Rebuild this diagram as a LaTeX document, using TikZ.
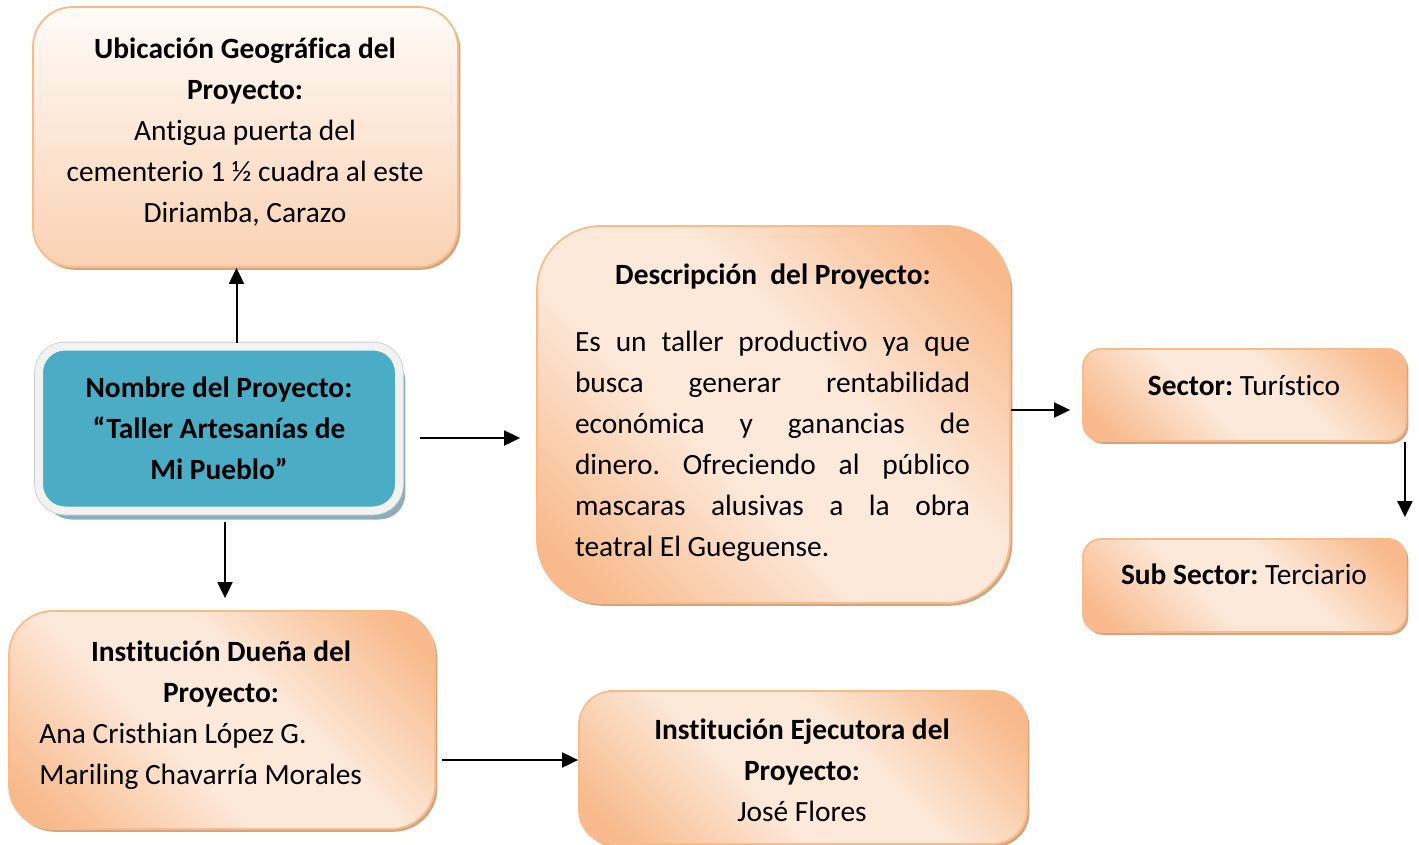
\documentclass[tikz,border=0pt]{standalone}
\usepackage{fontspec}
\setmainfont{Carlito}[Ligatures=NoCommon]
\usetikzlibrary{arrows.meta,shadows,calc}
\definecolor{pOr}{HTML}{F8BA8C}
\definecolor{pLt}{HTML}{FDE9DA}
\definecolor{pBorder}{HTML}{F7BB8C}
\definecolor{pShadow}{HTML}{D4A480}
\definecolor{nBlue}{HTML}{4BACC6}
\definecolor{nWhite}{HTML}{F2F2F2}
\definecolor{nGray}{HTML}{C9CDD0}
\definecolor{nShadow}{HTML}{8FADB8}
\definecolor{uTop}{HTML}{FFFBF8}
\definecolor{uBot}{HTML}{FAD1B2}
\pgfdeclarehorizontalshading{peachdiag}{100bp}{color(0bp)=(pOr); color(20bp)=(pOr); color(42bp)=(pLt); color(58bp)=(pLt); color(80bp)=(pOr); color(100bp)=(pOr)}
\begin{document}
\frenchspacing
\begin{tikzpicture}[x=0.5pt,y=-0.5pt,
  box/.style={rectangle, draw=pBorder, line width=0.9pt, inner sep=0pt,
    drop shadow={shadow xshift=1.2pt,shadow yshift=-1.4pt,fill=pShadow,opacity=1}},
  peach/.style={box, shading=peachdiag, shading angle=45},
  txt/.style={font=\fontsize{14.7}{20.5}\selectfont, inner sep=0pt, align=center},
  arr/.style={line width=1pt, -{Triangle[length=8pt,width=7.5pt]}}]
\useasboundingbox (0,0) rectangle (1419,845);
% boxes
\node[box, top color=uTop, bottom color=uBot, minimum width=212.5pt, minimum height=130pt, rounded corners=20pt] (ubic) at (245.5,137) {};
\node[txt] (ubicT) at (245,132) {\textbf{Ubicación Geográfica del}\\\textbf{Proyecto:}\\Antigua puerta del\\cementerio 1 ½ cuadra al este\\Diriamba, Carazo};

\node[rectangle, rounded corners=13pt, minimum width=180pt, minimum height=82pt, inner sep=0pt,
  drop shadow={shadow xshift=3.2pt, shadow yshift=-4.5pt, fill=nShadow, opacity=1},
  preaction={draw=nGray, line width=4.8pt},
  fill=nBlue, draw=nWhite, line width=4pt] (nombre) at (219,428.5) {};
\node[txt, font=\fontsize{14.7}{20.5}\selectfont\bfseries] (nombreT) at (219,428) {Nombre del Proyecto:\\“Taller Artesanías de\\Mi Pueblo”};

\node[peach, minimum width=236.5pt, minimum height=188.5pt, rounded corners=32pt] (desc) at (773.5,414.5) {};
\node[txt] (descT) at (773,276) {\textbf{Descripción\ \ del Proyecto:}};
\node[txt, align=left] (descB) at (772.5,446) {\makebox[197.5pt][s]{Es un taller productivo ya que}\\
\makebox[197.5pt][s]{busca generar rentabilidad}\\
\makebox[197.5pt][s]{económica y ganancias de}\\
\makebox[197.5pt][s]{dinero. Ofreciendo al público}\\
\makebox[197.5pt][s]{mascaras alusivas a la obra}\\
teatral El Gueguense.};

\node[peach, minimum width=161.5pt, minimum height=46pt, rounded corners=9pt] (sector) at (1244.5,395) {};
\node[txt] (sectorT) at (1244,385) {\textbf{Sector:} Turístico};

\node[peach, minimum width=161.5pt, minimum height=46.5pt, rounded corners=9pt] (sub) at (1244.5,585.5) {};
\node[txt] (subT) at (1244,574) {\textbf{Sub Sector:} Terciario};

\node[peach, minimum width=213pt, minimum height=109pt, rounded corners=22pt] (duena) at (222,720) {};
\node[txt, font=\fontsize{14.7}{20.5}\selectfont\bfseries] (duenaT) at (221,674) {Institución Dueña del\\Proyecto:};
\node[txt, align=left, anchor=west] (duenaB) at (39,756) {Ana Cristhian López G.\\Mariling Chavarría Morales};

\node[peach, minimum width=224pt, minimum height=76.5pt, rounded corners=17pt] (ejec) at (803,767.5) {};
\node[txt] (ejecT) at (802,770) {\textbf{Institución Ejecutora del}\\\textbf{Proyecto:}\\José Flores};

% connectors
\draw[arr] ([xshift=8.75pt]nombre.north) -- ([xshift=8.75pt]nombre.north |- ubic.south);
\draw[arr, shorten <=3.5pt, shorten >=6pt] ([xshift=3pt]nombre.south) -- ([xshift=3pt]nombre.south |- duena.north);
\draw[arr, shorten <=8.5pt, shorten >=8pt] ([yshift=-4.75pt]nombre.east) -- ([yshift=-4.75pt]nombre.east -| desc.west);
\draw[arr, shorten >=6pt] ([yshift=2.25pt]desc.east) -- ([yshift=2.25pt]desc.east -| sector.west);
\draw[arr, shorten >=10.5pt] ([xshift=-1pt]sector.south east) -- ([xshift=-1pt]sector.south east |- sub.north);
\draw[arr, shorten <=3pt] ([yshift=-20pt]duena.east) -- ([yshift=-20pt]duena.east -| ejec.west);
\end{tikzpicture}
\end{document}
